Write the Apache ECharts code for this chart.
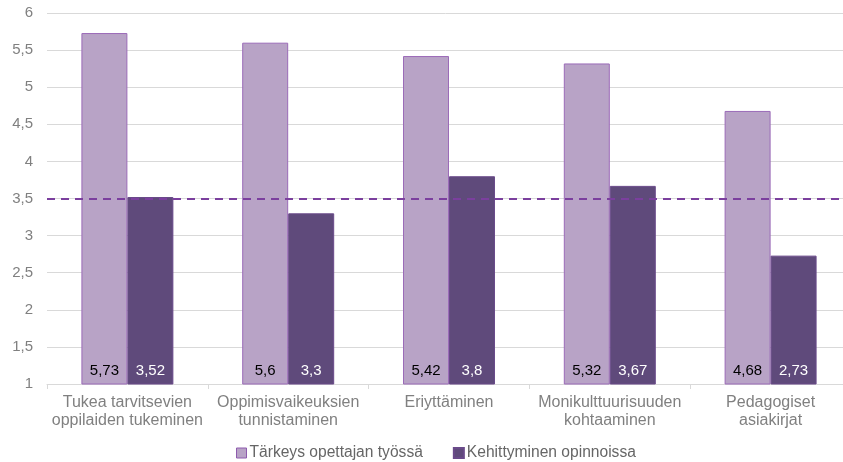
<!DOCTYPE html>
<html><head><meta charset="utf-8">
<script src="https://cdn.jsdelivr.net/npm/echarts@6/dist/echarts.min.js"></script>
<style>html,body{margin:0;padding:0;background:#fff}#c{width:843px;height:462px}</style>
</head><body><div id="c"></div>
<script>
const categories = ["Tukea tarvitsevien\noppilaiden tukeminen","Oppimisvaikeuksien\ntunnistaminen","Eriyttäminen","Monikulttuurisuuden\nkohtaaminen","Pedagogiset\nasiakirjat"];
const importance = [5.73, 5.6, 5.42, 5.32, 4.68];
const development = [3.52, 3.3, 3.8, 3.67, 2.73];
const seriesNames = ["Tärkeys opettajan työssä","Kehittyminen opinnoissa"];
const referenceLine = 3.5;
const fmt = v => String(v).replace('.', ',');
const font = 'Liberation Sans, Arial, sans-serif';
const chart = echarts.init(document.getElementById('c'));
chart.setOption({
  animation:false,
  textStyle:{fontFamily:font},
  grid:{left:47, top:13, width:804, height:371, outerBoundsMode:'none', containLabel:false},
  legend:{top:440, left:231, itemWidth:10, itemHeight:10, itemGap:30,
    textStyle:{fontSize:15.6, color:'#666666', fontFamily:font, padding:[0,0,0,-2]},
    data:[{name:seriesNames[0], icon:'rect', itemStyle:{borderColor:'#8E5BAE', borderWidth:1}},{name:seriesNames[1], icon:'rect'}]},
  xAxis:{type:'category', data:categories,
    axisLine:{lineStyle:{color:'#D9D9D9'}},
    axisTick:{show:true, length:5, lineStyle:{color:'#D9D9D9'}},
    axisLabel:{color:'#808080', fontSize:16, lineHeight:18, margin:10, interval:0, fontFamily:font}},
  yAxis:{type:'value', min:1, max:6, interval:0.5,
    axisLine:{show:false}, axisTick:{show:false},
    splitLine:{lineStyle:{color:'#D9D9D9'}},
    axisLabel:{color:'#808080', fontSize:15, margin:14, formatter:v=>fmt(v), fontFamily:font}},
  series:[
    {name:seriesNames[0], type:'bar', data:importance, barGap:'0%', barCategoryGap:'42.8%',
     itemStyle:{color:'#B8A3C6', borderColor:'#9B6BB8', borderWidth:1},
     label:{show:true, position:'insideBottom', distance:6, color:'#000', fontSize:15, formatter:p=>fmt(p.value), fontFamily:font},
     markLine:{silent:true, symbol:'none', label:{show:false},
       lineStyle:{color:'#7B3F9E', type:[8,6], width:2},
       data:[{yAxis:referenceLine}]}},
    {name:seriesNames[1], type:'bar', data:development,
     itemStyle:{color:'#5F4A7B', borderColor:'#6A4A8A', borderWidth:1},
     label:{show:true, position:'insideBottom', distance:6, color:'#fff', fontSize:15, formatter:p=>fmt(p.value), fontFamily:font}}
  ]
});
</script></body></html>
